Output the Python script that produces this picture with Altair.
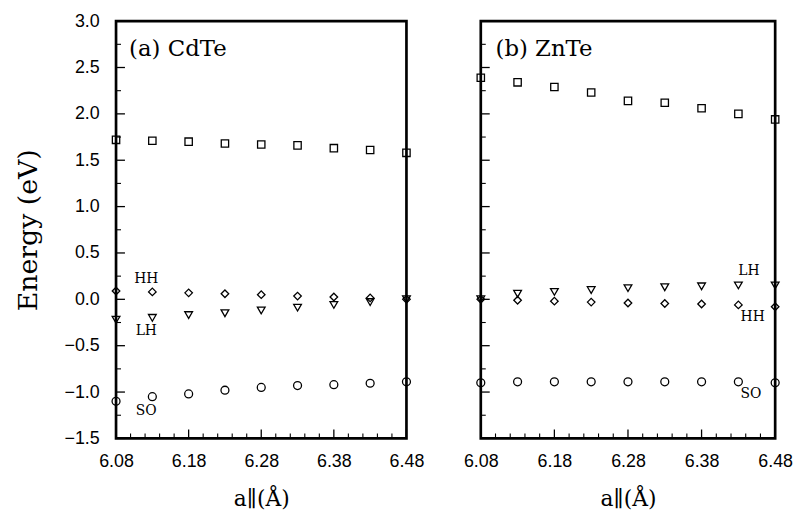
import altair as alt
import pandas as pd

# ---------------- data ----------------
a_vals = [6.08, 6.13, 6.18, 6.23, 6.28, 6.33, 6.38, 6.43, 6.48]

cdte_cb = [1.72, 1.71, 1.70, 1.68, 1.67, 1.66, 1.63, 1.61, 1.58]
cdte_hh = [0.09, 0.08, 0.07, 0.06, 0.05, 0.035, 0.025, 0.015, 0.0]
cdte_lh = [-0.22, -0.20, -0.17, -0.15, -0.12, -0.09, -0.06, -0.03, 0.0]
cdte_so = [-1.10, -1.05, -1.02, -0.98, -0.95, -0.93, -0.92, -0.905, -0.89]

znte_cb = [2.39, 2.34, 2.29, 2.23, 2.14, 2.12, 2.06, 2.00, 1.94]
znte_lh = [0.0, 0.06, 0.08, 0.10, 0.12, 0.13, 0.14, 0.15, 0.15]
znte_hh = [0.0, -0.01, -0.02, -0.03, -0.04, -0.045, -0.05, -0.06, -0.08]
znte_so = [-0.90, -0.89, -0.89, -0.89, -0.89, -0.89, -0.89, -0.89, -0.90]

bands = ["CB", "HH", "LH", "SO"]
band_shapes = ["square", "diamond", "triangle-down", "circle"]
band_sizes = [55, 64, 55, 68]

y_major = [-1.5, -1.0, -0.5, 0.0, 0.5, 1.0, 1.5, 2.0, 2.5, 3.0]
y_minor = [-1.25, -0.75, -0.25, 0.25, 0.75, 1.25, 1.75, 2.25, 2.75]
x_major = [6.08, 6.18, 6.28, 6.38, 6.48]
x_minor = [6.10, 6.12, 6.14, 6.16, 6.20, 6.22, 6.24, 6.26, 6.30, 6.32, 6.34,
           6.36, 6.40, 6.42, 6.44, 6.46]

cdte_label_text = ["HH", "LH", "SO"]
cdte_label_a = [6.105, 6.107, 6.107]
cdte_label_E = [0.22, -0.34, -1.20]
znte_label_text = ["LH", "HH", "SO"]
znte_label_a = [6.430, 6.433, 6.433]
znte_label_E = [0.30, -0.19, -1.02]

panel_titles = ["(a) CdTe", "(b) ZnTe"]
title_a = [6.098, 6.100]
title_E = [2.70, 2.70]

H = 421


def band_frame(series):
    rows = []
    for b, vals in zip(bands, series):
        for a, e in zip(a_vals, vals):
            rows.append({"a": a, "E": e, "band": b})
    return pd.DataFrame(rows)


def panel(series, lab_t, lab_a, lab_E, title, ta, tE, width, first):
    X = alt.X(
        "a:Q",
        scale=alt.Scale(domain=[6.08, 6.48], nice=False, zero=False),
        axis=alt.Axis(values=x_major, format=".2f", ticks=False, tickSize=0,
                      domain=False, grid=False, labelFlush=False,
                      labelFont="Liberation Sans", labelFontSize=18,
                      labelColor="black", labelPadding=14,
                      title="a∥(Å)", titleFont="DejaVu Serif",
                      titleFontSize=22, titleFontWeight="normal",
                      titleColor="black", titlePadding=19),
    )
    if first:
        yaxis = alt.Axis(values=y_major, format=".1f", ticks=False, tickSize=0,
                         domain=False, grid=False,
                         labelFont="Liberation Sans", labelFontSize=18,
                         labelColor="black", labelPadding=17,
                         title="Energy (eV)", titleFont="DejaVu Serif",
                         titleFontSize=27, titleFontWeight="normal",
                         titleColor="black", titlePadding=22)
    else:
        yaxis = alt.Axis(values=y_major, labels=False, ticks=False, tickSize=0,
                         domain=False, grid=False, title=None)
    Y = alt.Y("E:Q", scale=alt.Scale(domain=[-1.5, 3.0], nice=False, zero=False),
              axis=yaxis)

    pts = alt.Chart(band_frame(series)).mark_point(
        filled=False, color="black", strokeWidth=1.3, opacity=1
    ).encode(
        x=X, y=Y,
        shape=alt.Shape("band:N", scale=alt.Scale(domain=bands, range=band_shapes), legend=None),
        size=alt.Size("band:N", scale=alt.Scale(domain=bands, range=band_sizes), legend=None),
    )

    ymaj = alt.Chart(pd.DataFrame({"E": y_major})).mark_rule(color="black", strokeWidth=1.3).encode(
        y=Y, x=alt.value(0), x2=alt.value(9))
    ymin = alt.Chart(pd.DataFrame({"E": y_minor})).mark_rule(color="black", strokeWidth=1.1).encode(
        y=Y, x=alt.value(0), x2=alt.value(5))
    xmaj = alt.Chart(pd.DataFrame({"a": x_major})).mark_rule(color="black", strokeWidth=1.3).encode(
        x=X, y=alt.value(H), y2=alt.value(H - 9))
    xmin = alt.Chart(pd.DataFrame({"a": x_minor})).mark_rule(color="black", strokeWidth=1.1).encode(
        x=X, y=alt.value(H), y2=alt.value(H - 5))

    labs = alt.Chart(pd.DataFrame({"a": lab_a, "E": lab_E, "t": lab_t})).mark_text(
        align="left", baseline="middle", font="DejaVu Serif", fontSize=14, color="black"
    ).encode(x=X, y=Y, text="t:N")

    ttl = alt.Chart(pd.DataFrame({"a": [ta], "E": [tE], "t": [title]})).mark_text(
        align="left", baseline="middle", font="DejaVu Serif", fontSize=23, color="black"
    ).encode(x=X, y=Y, text="t:N")

    return alt.layer(ymaj, ymin, xmaj, xmin, pts, labs, ttl).properties(width=width, height=H)


left = panel([cdte_cb, cdte_hh, cdte_lh, cdte_so], cdte_label_text, cdte_label_a,
             cdte_label_E, panel_titles[0], title_a[0], title_E[0], 293, True)
right = panel([znte_cb, znte_hh, znte_lh, znte_so], znte_label_text, znte_label_a,
              znte_label_E, panel_titles[1], title_a[1], title_E[1], 297, False)

chart = alt.hconcat(left, right, spacing=75, bounds="flush").properties(
    padding={"left": 5, "top": 0, "right": 0, "bottom": 0},
    background="white",
).configure_view(stroke="black", strokeWidth=2.7).configure_axis(grid=False)

chart.save("out.html", embed_options={"renderer": "svg", "actions": False})
